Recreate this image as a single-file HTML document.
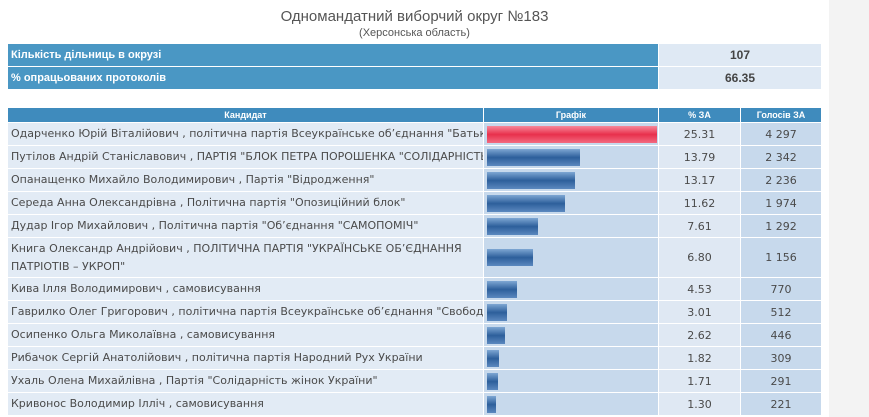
<!DOCTYPE html>
<html><head><meta charset="utf-8"><style>
body{margin:0;width:869px;height:417px;overflow:hidden;background:#fff;font-family:"DejaVu Sans","Liberation Sans",sans-serif;position:relative}
.abs{position:absolute}
.title{left:0;width:829px;text-align:center;color:#555;font-family:"Liberation Sans",sans-serif}
.info{left:8px;width:650px;height:22px;background:#4a97c4;color:#fff;font:bold 11px "Liberation Sans",sans-serif;line-height:22px;padding-left:3px;box-sizing:border-box}
.infov{left:659px;width:162px;height:22px;background:#dfe9f4;color:#444;font:bold 12px "Liberation Sans",sans-serif;line-height:22px;text-align:center}
.hd{top:108px;height:14px;background:#3f8bbd;color:#fff;font:bold 9px "Liberation Sans",sans-serif;line-height:14px;text-align:center}
.c{color:#4a4a4a;font-size:11px;box-sizing:border-box;display:flex;align-items:center;white-space:nowrap;overflow:hidden}
</style></head><body>
<div class="abs" style="left:829px;top:0;width:40px;height:417px;background:#f3f3f3"></div>
<div class="abs title" style="top:8px;font-size:15px">Одномандатний виборчий округ №183</div>
<div class="abs title" style="top:27px;font-size:11px">(Херсонська область)</div>
<div class="abs info" style="top:44px">Кількість дільниць в окрузі</div>
<div class="abs infov" style="top:44px">107</div>
<div class="abs info" style="top:67px">% опрацьованих протоколів</div>
<div class="abs infov" style="top:67px">66.35</div>
<div class="abs hd" style="left:8px;width:475px">Кандидат</div>
<div class="abs hd" style="left:484px;width:174px">Графік</div>
<div class="abs hd" style="left:659px;width:81px">% ЗА</div>
<div class="abs hd" style="left:741px;width:80px">Голосів ЗА</div>
<div id="rows"></div>
<script>
const names=["Одарченко Юрій Віталійович , політична партія Всеукраїнське об’єднання \"Батьківщина\"","Путілов Андрій Станіславович , ПАРТІЯ \"БЛОК ПЕТРА ПОРОШЕНКА \"СОЛІДАРНІСТЬ\"","Опанащенко Михайло Володимирович , Партія \"Відродження\"","Середа Анна Олександрівна , Політична партія \"Опозиційний блок\"","Дудар Ігор Михайлович , Політична партія \"Об’єднання \"САМОПОМІЧ\"","Книга Олександр Андрійович , ПОЛІТИЧНА ПАРТІЯ \"УКРАЇНСЬКЕ ОБ’ЄДНАННЯ<br>ПАТРІОТІВ – УКРОП\"","Кива Ілля Володимирович , самовисування","Гаврилко Олег Григорович , політична партія Всеукраїнське об’єднання \"Свобода\"","Осипенко Ольга Миколаївна , самовисування","Рибачок Сергій Анатолійович , політична партія Народний Рух України","Ухаль Олена Михайлівна , Партія \"Солідарність жінок України\"","Кривонос Володимир Ілліч , самовисування"];
const percents=[25.31,13.79,13.17,11.62,7.61,6.80,4.53,3.01,2.62,1.82,1.71,1.30];
const votes=["4 297","2 342","2 236","1 974","1 292","1 156","770","512","446","309","291","221"];
const heights=[23,23,23,23,23,40,23,23,23,23,23,23];
const x=v=>v*170/25.31;
const root=document.getElementById('rows');
let y=123;
function cell(l,w,top,h,bg,html,extra){const d=document.createElement('div');d.className='abs c';d.style.cssText=`left:${l}px;top:${top}px;width:${w}px;height:${h}px;background:${bg};${extra||''}`;d.innerHTML=html;root.appendChild(d);return d;}
names.forEach((n,i)=>{const h=heights[i]-1;
const a=cell(8,475,y,h,'#e2ebf5',n,'padding-left:3px;line-height:18px');


const g=cell(484,174,y,h,'#c7d9ec','');


const b=document.createElement('div');


b.style.cssText=`position:absolute;left:3px;top:${(h-17)/2}px;height:17px;width:${x(percents[i])}px;background:${i==0?'linear-gradient(#f7889a,#e8304c 50%,#f26a80)':'linear-gradient(#7ea7d3,#2d5f9b 50%,#5b88bf)'}`;
g.appendChild(b);
const p=cell(659,81,y,h,'#dfe8f3',percents[i].toFixed(2),'justify-content:center');


const v=cell(741,80,y,h,'#c7d9ec',votes[i],'justify-content:center');


y+=heights[i];});
</script>
</body></html>
